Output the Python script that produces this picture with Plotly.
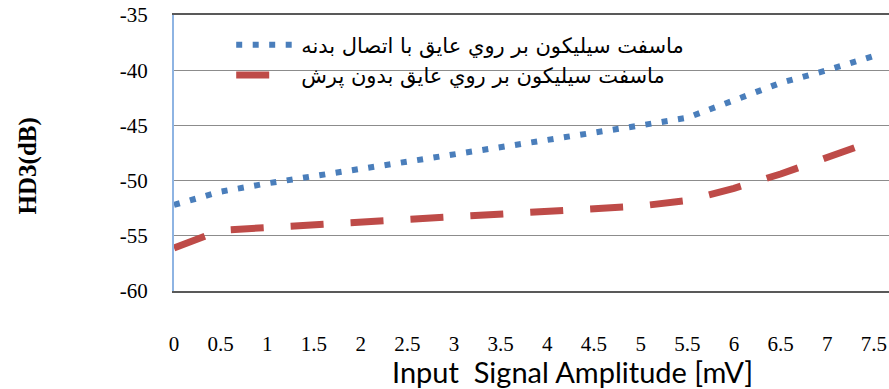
import plotly.graph_objects as go

# ---- data ----
amplitude_mv = [0, 0.5, 1, 1.5, 2, 2.5, 3, 3.5, 4, 4.5, 5, 5.5, 6, 6.5, 7, 7.5]
hd3_body_contact = [-52.2, -51.0, -50.25, -49.6, -49.0, -48.35, -47.7, -47.05,
                    -46.35, -45.65, -45.0, -44.3, -42.7, -41.15, -40.0, -38.7]
hd3_floating = [-56.1, -54.5, -54.25, -54.0, -53.72, -53.5, -53.25, -53.0,
                -52.7, -52.45, -52.3, -51.8, -50.7, -49.4, -47.95, -46.4]
name_body_contact = "ماسفت سيليكون بر روي عايق با اتصال بدنه"
name_floating = "ماسفت سيليكون بر روي عايق بدون پرش"
y_ticks = [-60, -55, -50, -45, -40, -35]
y_tick_text = ["-60", "-55", "-50", "-45", "-40", "-35"]
x_ticks = [0, 0.5, 1, 1.5, 2, 2.5, 3, 3.5, 4, 4.5, 5, 5.5, 6, 6.5, 7, 7.5]
x_tick_text = ["0", "0.5", "1", "1.5", "2", "2.5", "3", "3.5", "4", "4.5",
               "5", "5.5", "6", "6.5", "7", "7.5"]
x_title = "Input  Signal Amplitude [mV]"
y_title = "HD3(dB)"

fig = go.Figure()
fig.add_trace(go.Scatter(
    x=amplitude_mv, y=hd3_body_contact, name=name_body_contact, mode="lines",
    line=dict(color="#4A7EBB", width=6, dash="6px,10.5px"),
    legendgroup="a",
))
fig.add_trace(go.Scatter(
    x=amplitude_mv, y=hd3_floating, name=name_floating, mode="lines",
    line=dict(color="#BE4B48", width=7, dash="33px,27px"),
    legendgroup="b",
))

serif = "Liberation Serif, Times New Roman, serif"

fig.update_layout(
    width=889, height=389,
    margin=dict(l=174, r=0, t=15, b=98, autoexpand=False),
    paper_bgcolor="white", plot_bgcolor="white",
    showlegend=True,
    legend=dict(
        x=0.08, y=0.965, xanchor="left", yanchor="top",
        bgcolor="rgba(0,0,0,0)", itemwidth=60,
        font=dict(family="DejaVu Sans, Noto Sans, sans-serif", size=21, color="black"),
        tracegroupgap=0,
    ),
    xaxis=dict(
        range=[0, 7.661], tickvals=x_ticks, ticktext=x_tick_text,
        showgrid=False, zeroline=False,
        showline=True, linecolor="#595959", linewidth=2, mirror=True,
        ticks="", ticklabelstandoff=33,
        tickfont=dict(family=serif, size=21, color="black"),
    ),
    yaxis=dict(
        range=[-60, -35], tickvals=y_ticks, ticktext=y_tick_text,
        showgrid=True, gridcolor="#8C8C8C",
        gridwidth=1, zeroline=False, showline=True, linecolor="#8EB4E3",
        linewidth=2, ticks="", ticklabelstandoff=20,
        tickfont=dict(family=serif, size=21, color="black"),
    ),
    annotations=[
        dict(
            text=x_title, xref="paper", yref="paper", x=0.557, y=-0.292,
            xanchor="center", yanchor="middle", showarrow=False,
            font=dict(family="Lato, Open Sans, sans-serif", size=29, color="black"),
        ),
        dict(
            text=y_title, xref="paper", yref="paper", x=-0.204, y=0.452,
            xanchor="center", yanchor="middle", showarrow=False, textangle=-90,
            font=dict(family=serif, size=25, color="black", weight="bold"),
        ),
    ],
)

fig.write_html("out.html", config={"displayModeBar": False},
               post_script="document.body.style.margin='0px';")
